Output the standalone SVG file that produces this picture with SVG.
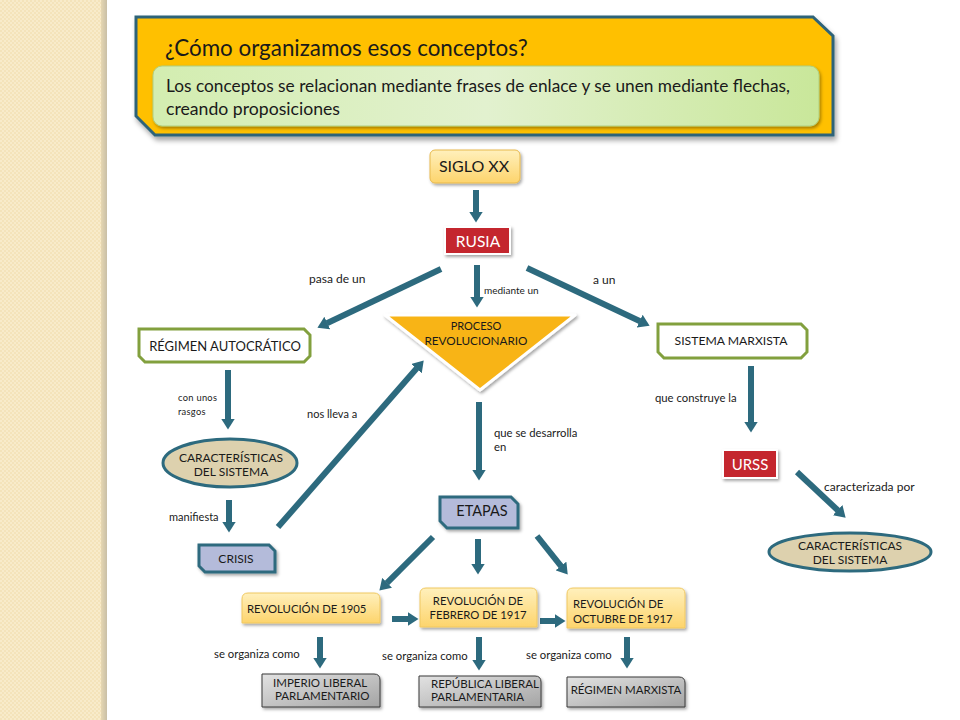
<svg xmlns="http://www.w3.org/2000/svg" width="960" height="720" viewBox="0 0 960 720">
<defs>
<style>
text{font-family:Lato,"Open Sans","Liberation Sans",sans-serif;fill:#1a1a1a}
.lbl{font-size:11.3px}
.c{text-anchor:middle}
.w{fill:#ffffff}
.ar{stroke:#2D6A7E;stroke-width:6;fill:none;marker-end:url(#ah)}
.red{fill:#C4282F;stroke:#ffffff;stroke-width:2}
.lav{fill:#B4BBDA;stroke:#2D6A7E;stroke-width:3}
.grn{fill:#ffffff;stroke:#82A03E;stroke-width:3}
.ell{fill:#DDD1AE;stroke:#2D6A7E;stroke-width:3}
.rev{fill:url(#gy);stroke:#F0C860;stroke-width:1}
.gry{fill:url(#gg);stroke:#3a3a3a;stroke-width:1}
.rt{font-size:11.3px}
.gt{font-size:11.5px}
.et{font-size:12px}
</style>
<pattern id="pt" width="4" height="4" patternUnits="userSpaceOnUse">
<rect width="4" height="4" fill="#F4E3BA"/>
<rect width="2" height="2" fill="#F8EBCA"/>
<rect x="2" y="2" width="2" height="2" fill="#F8EBCA"/>
</pattern>
<linearGradient id="edge" x1="0" y1="0" x2="1" y2="0">
<stop offset="0" stop-color="#E6D7B2"/>
<stop offset="1" stop-color="#C9BFA6"/>
</linearGradient>
<linearGradient id="gbox" x1="0" y1="0" x2="1" y2="0">
<stop offset="0" stop-color="#D3EDB0"/>
<stop offset="0.5" stop-color="#E2F1CF"/>
<stop offset="1" stop-color="#C9E79A"/>
</linearGradient>
<linearGradient id="gy" x1="0" y1="0" x2="0" y2="1">
<stop offset="0" stop-color="#FFF0BC"/>
<stop offset="1" stop-color="#FDD46C"/>
</linearGradient>
<linearGradient id="gg" x1="0" y1="0" x2="1" y2="1">
<stop offset="0" stop-color="#E2E2E2"/>
<stop offset="1" stop-color="#A4A4A4"/>
</linearGradient>
<filter id="sh" x="-20%" y="-20%" width="140%" height="160%">
<feDropShadow dx="1.5" dy="2" stdDeviation="1.5" flood-color="#000" flood-opacity="0.35"/>
</filter>
<filter id="shb" x="-10%" y="-10%" width="120%" height="130%">
<feDropShadow dx="2" dy="4" stdDeviation="2.5" flood-color="#000" flood-opacity="0.35"/>
</filter>
<marker id="ah" markerUnits="userSpaceOnUse" markerWidth="12" markerHeight="14" refX="0.5" refY="7" orient="auto">
<path d="M0,0 L11,7 L0,14 z" fill="#2D6A7E"/>
</marker>
</defs>

<rect width="960" height="720" fill="#ffffff"/>
<rect x="0" y="0" width="102" height="720" fill="url(#pt)"/>
<rect x="101" y="0" width="6" height="720" fill="url(#edge)"/>

<g id="header">
<path d="M136,17 L813,17 L833,36 L833,135 L155,135 L136,116 Z" fill="#FFC000" stroke="#2F6378" stroke-width="3" filter="url(#shb)"/>
<text x="165" y="56" style="font-size:22.4px">¿Cómo organizamos esos conceptos?</text>
<rect x="153" y="66" width="666" height="60" rx="9" fill="url(#gbox)" stroke="#AFCF80" stroke-width="1" filter="url(#sh)"/>
<text x="166" y="92" style="font-size:16.5px" textLength="624" lengthAdjust="spacingAndGlyphs">Los conceptos se relacionan mediante frases de enlace y se unen mediante flechas,</text>
<text x="166" y="115" style="font-size:16.5px" textLength="174" lengthAdjust="spacingAndGlyphs">creando proposiciones</text>
</g>

<g id="connectors">
<line class="ar" x1="476" y1="190" x2="476" y2="212"/>
<line class="ar" x1="441" y1="269" x2="326.9" y2="323.3"/>
<line class="ar" x1="477" y1="265" x2="477" y2="297"/>
<line class="ar" x1="527" y1="268" x2="640.1" y2="321.3"/>
<line class="ar" x1="228" y1="370" x2="228" y2="419"/>
<line class="ar" x1="229" y1="500" x2="229" y2="522"/>
<line class="ar" x1="278" y1="527" x2="416.8" y2="368.3"/>
<line class="ar" x1="479" y1="402" x2="479" y2="470"/>
<line class="ar" x1="433" y1="537" x2="386.8" y2="583.2"/>
<line class="ar" x1="478" y1="539" x2="478" y2="564"/>
<line class="ar" x1="537" y1="536" x2="561.2" y2="566.4"/>
<line class="ar" x1="392" y1="619" x2="408" y2="619"/>
<line class="ar" x1="540" y1="621" x2="555" y2="621"/>
<line class="ar" x1="320" y1="637" x2="320" y2="658"/>
<line class="ar" x1="479" y1="637" x2="479" y2="660"/>
<line class="ar" x1="627" y1="637" x2="627" y2="658"/>
<line class="ar" x1="751" y1="366" x2="751" y2="422"/>
<line class="ar" x1="797" y1="472" x2="838" y2="510.5"/>
</g>

<g id="labels">
<text x="309" y="283" style="font-size:12px">pasa de un</text>
<text x="484" y="294" style="font-size:10px">mediante un</text>
<text x="593" y="284" style="font-size:12px">a un</text>
<text x="178" y="401" style="font-size:9.3px;letter-spacing:0.3px">con unos</text>
<text x="178" y="415" style="font-size:9.3px;letter-spacing:0.3px">rasgos</text>
<text x="307" y="418" style="font-size:11px">nos lleva a</text>
<text x="169" y="521" style="font-size:11px">manifiesta</text>
<text x="494" y="437" class="lbl">que se desarrolla</text>
<text x="494" y="451" class="lbl">en</text>
<text x="655" y="402" class="lbl">que construye la</text>
<text x="824" y="491" style="font-size:12px">caracterizada por</text>
<text x="214" y="658" class="lbl">se organiza como</text>
<text x="382" y="660" class="lbl">se organiza como</text>
<text x="526" y="659" class="lbl">se organiza como</text>
</g>

<g id="siglo">
<rect x="430" y="150" width="90" height="33" rx="5" fill="url(#gy)" stroke="#E8B94C" stroke-width="1" filter="url(#sh)"/>
<text x="474" y="172" class="c" style="font-size:16px">SIGLO XX</text>
</g>

<g id="rusia">
<rect x="445" y="227" width="65" height="27" class="red" filter="url(#sh)"/>
<text x="478" y="247" class="c w" style="font-size:15.5px">RUSIA</text>
</g>

<g id="regimen">
<path d="M139,329 L304,329 L310,335 L310,356 L304,362 L145,362 L139,356 Z" class="grn"/>
<text x="225" y="351" class="c" style="font-size:13px">RÉGIMEN AUTOCRÁTICO</text>
</g>

<g id="proceso">
<path d="M385,315 L575,315 L480,390 Z" fill="#F8B418" stroke="#ffffff" stroke-width="3" stroke-linejoin="round" filter="url(#sh)"/>
<text x="476" y="330" class="c" style="font-size:11px">PROCESO</text>
<text x="476" y="345" class="c" style="font-size:11px" textLength="103" lengthAdjust="spacingAndGlyphs">REVOLUCIONARIO</text>
</g>

<g id="sistema">
<path d="M658,324 L801,324 L807,330 L807,352 L801,358 L664,358 L658,352 Z" class="grn"/>
<text x="731" y="345" class="c" style="font-size:12.2px">SISTEMA MARXISTA</text>
</g>

<g id="caract1">
<ellipse cx="230" cy="463" rx="67" ry="24" class="ell"/>
<text x="231" y="462" class="c et">CARACTERÍSTICAS</text>
<text x="231" y="476" class="c et">DEL SISTEMA</text>
</g>

<g id="crisis">
<path d="M199,545 L269,545 L275,551 L275,572 L205,572 L199,566 Z" class="lav" filter="url(#sh)"/>
<text x="236" y="563" class="c" style="font-size:12px">CRISIS</text>
</g>

<g id="etapas">
<path d="M440,497 L511,497 L518,504 L518,528 L447,528 L440,521 Z" class="lav" filter="url(#sh)"/>
<text x="482" y="516" class="c" style="font-size:14.5px">ETAPAS</text>
</g>

<g id="urss">
<rect x="723" y="450" width="54" height="28" class="red" filter="url(#sh)"/>
<text x="750" y="470" class="c w" style="font-size:15px">URSS</text>
</g>

<g id="caract2">
<ellipse cx="850" cy="552" rx="81" ry="19" class="ell"/>
<text x="850" y="550" class="c et">CARACTERÍSTICAS</text>
<text x="850" y="564" class="c et">DEL SISTEMA</text>
</g>

<g id="rev1905">
<path d="M242,623 L242,599 Q242,593 248,593 L374,593 Q380,593 380,599 L380,623 Z" class="rev" filter="url(#sh)"/>
<text x="247" y="613" class="rt">REVOLUCIÓN DE 1905</text>
</g>

<g id="revfeb">
<path d="M420,627 L420,594 Q420,588 426,588 L531,588 Q537,588 537,594 L537,627 Z" class="rev" filter="url(#sh)"/>
<text x="478" y="605" class="c rt">REVOLUCIÓN DE</text>
<text x="478" y="619" class="c rt">FEBRERO DE 1917</text>
</g>

<g id="revoct">
<path d="M567,628 L567,594 Q567,588 573,588 L679,588 Q685,588 685,594 L685,628 Z" class="rev" filter="url(#sh)"/>
<text x="573" y="608" class="rt">REVOLUCIÓN DE</text>
<text x="573" y="623" class="rt">OCTUBRE DE 1917</text>
</g>

<g id="imperio">
<path d="M262,674 L374,674 Q380,674 380,680 L380,707 L262,707 Z" class="gry" filter="url(#sh)"/>
<text x="273" y="687" class="gt">IMPERIO LIBERAL</text>
<text x="275" y="700" class="gt">PARLAMENTARIO</text>
</g>

<g id="republica">
<path d="M419,676 L535,676 Q541,676 541,682 L541,707 L419,707 Z" class="gry" filter="url(#sh)"/>
<text x="431" y="688" class="gt">REPÚBLICA  LIBERAL</text>
<text x="431" y="701" class="gt">PARLAMENTARIA</text>
</g>

<g id="regmarx">
<path d="M567,677 L679,677 Q685,677 685,683 L685,707 L567,707 Z" class="gry" filter="url(#sh)"/>
<text x="626" y="694" class="c gt">RÉGIMEN MARXISTA</text>
</g>
</svg>
